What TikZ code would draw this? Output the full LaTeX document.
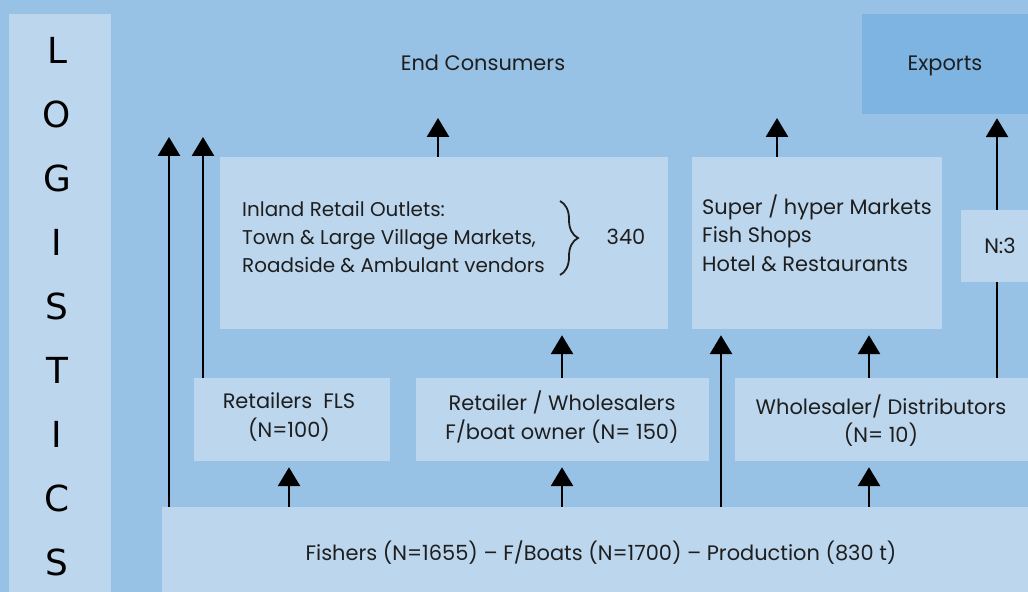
\documentclass[tikz,border=0pt]{standalone}
\usepackage{fontspec}
\setmainfont{Poppins}
\newfontfamily\logofont{DejaVu Sans}
\usetikzlibrary{arrows.meta,decorations.pathreplacing}
\definecolor{bgblue}{HTML}{97C2E6}
\definecolor{boxblue}{HTML}{BCD6EE}
\definecolor{expblue}{HTML}{7EB4E1}
\definecolor{txt}{HTML}{1E1E1E}
\begin{document}
\begin{tikzpicture}[x=1bp,y=-1bp,
  box/.style={fill=boxblue, draw=none, inner sep=0pt, anchor=center},
  lbl/.style={text=txt, font=\fontsize{21}{28.5}\selectfont, inner sep=0pt},
  one/.style={lbl, anchor=base},
  letter/.style={font=\logofont\fontsize{36}{36}\selectfont, inner sep=0pt},
  arr/.style={line width=2.8bp, -{Triangle[width=22bp,length=19bp]}},
  link/.style={line width=2.8bp}]
\useasboundingbox (0,0) rectangle (1028,592);
\fill[bgblue] (0,0) rectangle (1028,592);

% boxes
\node[box, minimum width=102bp, minimum height=578bp] (logcol) at (60,303) {};
\node[box, fill=expblue, minimum width=166bp, minimum height=100bp] (exports) at (945,64) {};
\node[box, minimum width=448bp, minimum height=172bp] (inland) at (444,243) {};
\node[box, minimum width=250bp, minimum height=172bp] (super) at (817,243) {};
\node[box, minimum width=67bp, minimum height=72bp] (n3) at (994.5,246) {};
\node[box, minimum width=196bp, minimum height=83bp] (fls) at (292,419.5) {};
\node[box, minimum width=293bp, minimum height=83bp] (rw) at (562.5,419.5) {};
\node[box, minimum width=293bp, minimum height=83bp] (wd) at (881.5,419.5) {};
\node[box, minimum width=866bp, minimum height=85bp] (fishers) at (595,549.5) {};

% LOGISTICS
\foreach \c [count=\i from 0] in {L,O,G,I,S,T,I,C,S}
  \node[letter] (lg\i) at (57,50+64*\i) {\c};

% labels
\node[one] (endc) at (483,70.5) {End Consumers};
\node[one] (exportsT) at (945,70.5) {Exports};
\node[lbl, font=\fontsize{20}{28.5}\selectfont, align=left, anchor=west] (inlandT) at (242,237)
  {Inland Retail Outlets:\\Town \& Large Village Markets,\\Roadside \& Ambulant vendors};
\node[one] (num340) at (626,244.5) {340};
\node[lbl, align=left, anchor=west] (superT) at (702,233)
  {Super / hyper Markets\\Fish Shops\\Hotel \& Restaurants};
\node[one] (n3T) at (1000,253.5) {N:3};
\node[lbl, align=center] (flsT) at (289,417) {Retailers~ FLS\\(N=100)};
\node[lbl, align=center] (rwT) at (562,417) {Retailer / Wholesalers\\F/boat owner (N= 150)};
\node[lbl, align=center] (wdT) at (881,420.5) {Wholesaler/ Distributors\\(N= 10)};
\node[one] (fishersT) at (601,560.5) {Fishers (N=1655) – F/Boats (N=1700) – Production (830 t)};

% brace
\draw[decorate, decoration={brace, amplitude=18bp}, line width=1.8bp, txt] (560,201) -- (560,275);

% connectors
\coordinate (t1) at (169,137);
\coordinate (t2) at (203,137);
\coordinate (t3) at (438,118);
\coordinate (t4) at (777,118);
\coordinate (c5) at (997,0);
\coordinate (c6) at (289,0);
\coordinate (c7) at (562,0);
\coordinate (c8) at (869,0);
\coordinate (c9) at (721,0);

\draw[arr] (fishers.north -| t1) -- (t1);
\draw[arr] (fls.north -| t2) -- (t2);
\draw[arr] (inland.north -| t3) -- (t3);
\draw[arr] (super.north -| t4) -- (t4);
\draw[arr, shorten >=4bp] (n3.north -| c5) -- (exports.south -| c5);
\draw[link] (wd.north -| c5) -- (n3.south -| c5);
\draw[arr, shorten >=6bp] (fishers.north -| c6) -- (fls.south -| c6);
\draw[arr, shorten >=6bp] (fishers.north -| c7) -- (rw.south -| c7);
\draw[arr, shorten >=6bp] (fishers.north -| c8) -- (wd.south -| c8);
\draw[arr, shorten >=6bp] (rw.north -| c7) -- (inland.south -| c7);
\draw[arr, shorten >=6bp] (fishers.north -| c9) -- (super.south -| c9);
\draw[arr, shorten >=6bp] (wd.north -| c8) -- (super.south -| c8);
\end{tikzpicture}
\end{document}
